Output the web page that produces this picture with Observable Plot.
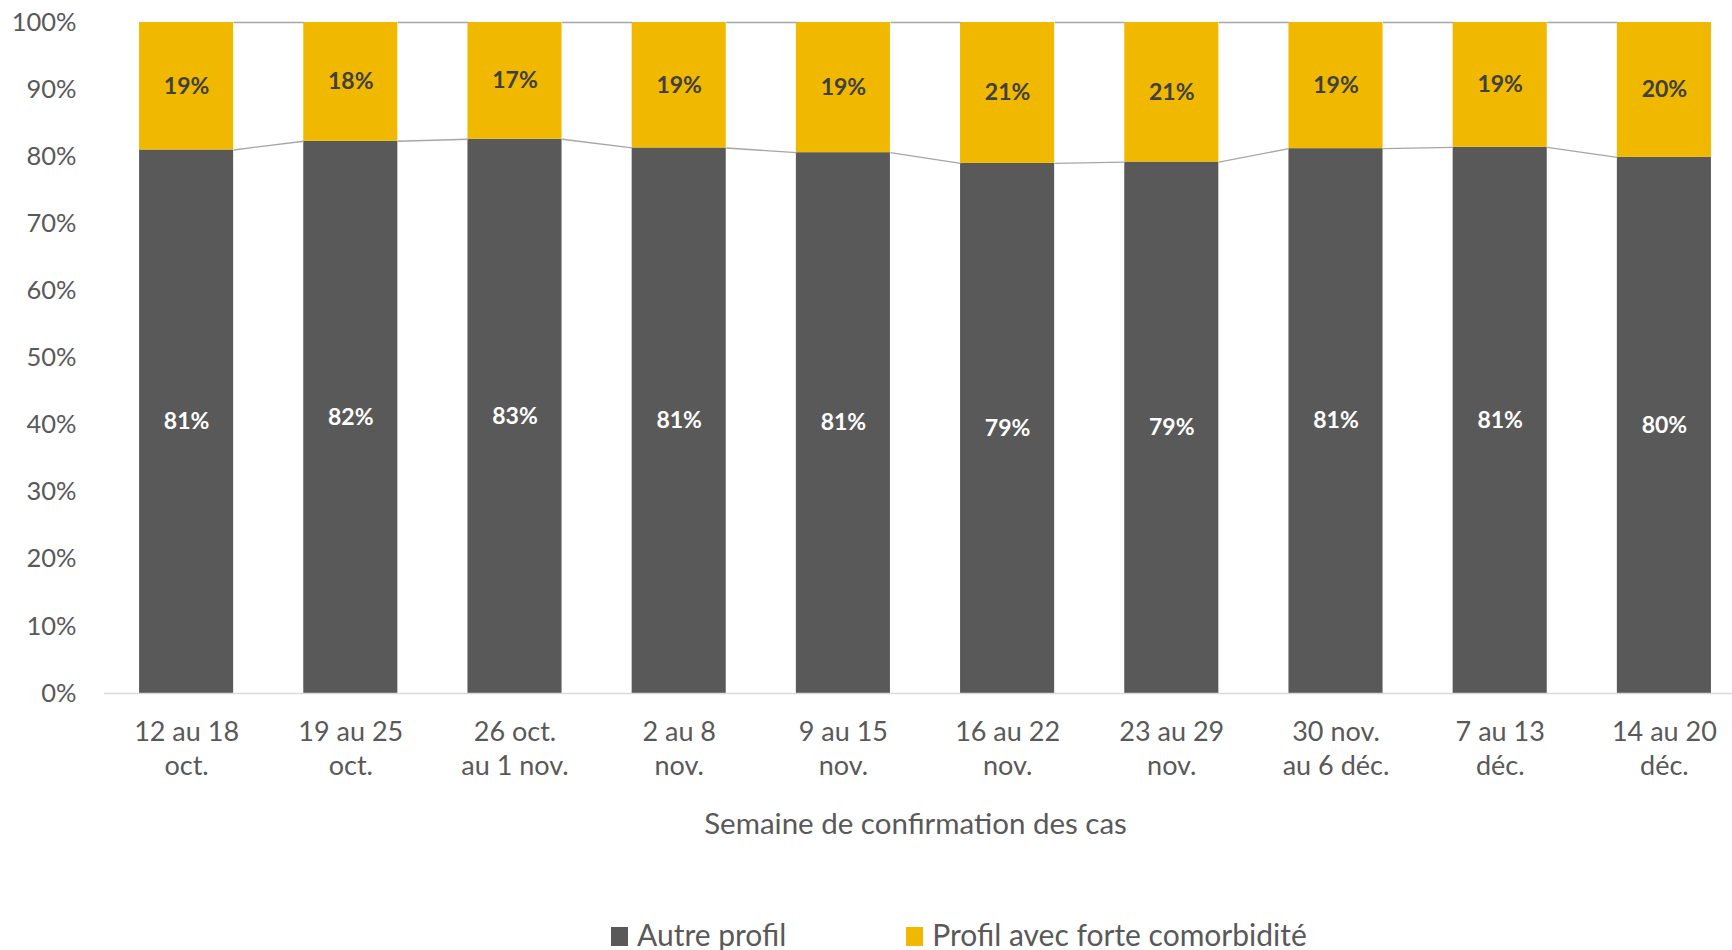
<!DOCTYPE html>
<html>
<head>
<meta charset="utf-8">
<script src="https://cdn.jsdelivr.net/npm/d3@7"></script>
<script src="https://cdn.jsdelivr.net/npm/@observablehq/plot@0.6"></script>
<style>
  html, body { margin: 0; padding: 0; background: #fff; }
  #chart { position: relative; width: 1732px; height: 950px; overflow: hidden; }
  .legend { position: absolute; top: 917px; left: 611px; display: flex; align-items: flex-start;
            font-family: Lato, sans-serif; font-size: 30px; line-height: 34px; color: #595959; }
  .legend .item { display: flex; align-items: flex-start; }
  .legend .sw { width: 17px; height: 19px; margin-top: 10px; margin-right: 9px; }
</style>
</head>
<body>
<div id="chart"></div>
<script>
// ---- Data ----
const weeks = [
  "12 au 18\noct.", "19 au 25\noct.", "26 oct.\nau 1 nov.", "2 au 8\nnov.", "9 au 15\nnov.",
  "16 au 22\nnov.", "23 au 29\nnov.", "30 nov.\nau 6 déc.", "7 au 13\ndéc.", "14 au 20\ndéc."
];
const autreProfil   = [0.810, 0.823, 0.826, 0.813, 0.806, 0.790, 0.792, 0.812, 0.814, 0.799];
const comorbidite   = [0.190, 0.177, 0.174, 0.187, 0.194, 0.210, 0.208, 0.188, 0.186, 0.201];
const autreLabels   = ["81%", "82%", "83%", "81%", "81%", "79%", "79%", "81%", "81%", "80%"];
const comorbLabels  = ["19%", "18%", "17%", "19%", "19%", "21%", "21%", "19%", "19%", "20%"];
const seriesNames   = ["Autre profil", "Profil avec forte comorbidité"];
const seriesColors  = ["#595959", "#F1B800"];
const yTicks        = [0, 0.1, 0.2, 0.3, 0.4, 0.5, 0.6, 0.7, 0.8, 0.9, 1.0];
const axisTitle     = "Semaine de confirmation des cas";

// ---- Build tables ----
const hw = 0.2865; // half bar width in band units
const rows = [];
weeks.forEach((w, i) => {
  const a = autreProfil[i], c = comorbidite[i];
  rows.push({i, series: seriesNames[0], y1: 0, y2: a, label: autreLabels[i]});
  rows.push({i, series: seriesNames[1], y1: a, y2: a + c, label: comorbLabels[i]});
});
const idx = weeks.map((_, i) => i);
const pairs = d3.pairs(idx);
const linkRows = [];
pairs.forEach(([a, b]) => {
  linkRows.push({x1: a + hw, x2: b - hw, y1: autreProfil[a], y2: autreProfil[b]});
  linkRows.push({x1: a + hw, x2: b - hw, y1: autreProfil[a] + comorbidite[a], y2: autreProfil[b] + comorbidite[b]});
});

const W = 1732, H = 870;
const plot = Plot.plot({
  width: W,
  height: H,
  marginTop: 22,
  marginBottom: H - 693,
  marginLeft: 104,
  marginRight: 0,
  style: {fontFamily: "Lato, sans-serif", fontSize: "25px", color: "#595959", background: "#fff", overflow: "visible"},
  x: {type: "linear", domain: [-0.5, weeks.length - 0.5], range: [104, 1746]},
  y: {domain: [0, 1]},
  color: {domain: seriesNames, range: seriesColors},
  marks: [
    Plot.rect(rows, {x1: d => d.i - hw, x2: d => d.i + hw, y1: "y1", y2: "y2", fill: "series"}),
    Plot.link(linkRows, {x1: "x1", x2: "x2", y1: "y1", y2: "y2", stroke: "#a6a6a6", strokeWidth: 1.3}),
    Plot.text(rows, {
      x: "i", y: d => (d.y1 + d.y2) / 2, text: "label",
      fill: d => d.series === seriesNames[0] ? "#ffffff" : "#404040",
      fontWeight: "bold", fontSize: 23, fontFamily: "Lato, sans-serif"
    }),
    Plot.ruleY([0], {stroke: "#d9d9d9", strokeWidth: 1.6}),
    Plot.axisY(yTicks, {
      tickSize: 0, tickPadding: 28, tickFormat: d3.format(".0%"),
      fontSize: 25.5, fill: "#595959", label: null
    }),
    Plot.axisX(idx, {
      tickSize: 0, tickPadding: 23, tickFormat: i => weeks[i],
      fontSize: 27, lineHeight: 1.26, fill: "#595959", label: null
    }),
    Plot.text([axisTitle], {
      frameAnchor: "bottom", dy: 131, dx: -3, text: d => d, fontSize: 29.5, fill: "#595959", lineAnchor: "middle"
    })
  ]
});

const chart = document.getElementById("chart");
chart.appendChild(plot);

// Legend
const legend = document.createElement("div");
legend.className = "legend";
seriesNames.forEach((name, k) => {
  const item = document.createElement("div");
  item.className = "item";
  if (k > 0) item.style.marginLeft = "120px";
  const sw = document.createElement("span");
  sw.className = "sw";
  sw.style.background = seriesColors[k];
  const t = document.createElement("span");
  t.textContent = name;
  item.appendChild(sw);
  item.appendChild(t);
  legend.appendChild(item);
});
chart.appendChild(legend);
</script>
</body>
</html>
